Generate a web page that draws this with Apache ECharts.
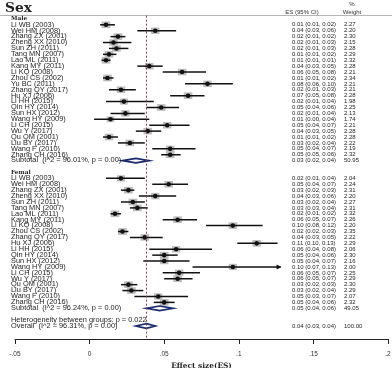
<!DOCTYPE html>
<html>
<head>
<meta charset="utf-8">
<script src="https://cdn.jsdelivr.net/npm/echarts@6/dist/echarts.min.js"></script>
<style>html,body{margin:0;padding:0;background:#fff}#c{width:392px;height:368px}</style>
</head>
<body>
<div id="c"></div>
<script>
// ---- data ----
const maleStudies = ['Li WB (2003)','Wei HM (2008)','Zhang ZX (2001)','Zheng XX (2010)','Sun ZH (2011)','Tang MN (2007)','Lao ML (2011)','Kang MY (2011)','Li KQ (2008)','Zhou CS (2002)','Yu BC (2011)','Zhang QY (2017)','Hu XJ (2006)','Li HH (2015)','Qin HY (2014)','Sun HX (2012)','Wang HY (2009)','Li CH (2015)','Wu Y (2017)','Qu QM (2001)','Liu BY (2017)','Wang F (2010)','Zhang CH (2016)'];
const maleES   = [0.011,0.044,0.019,0.016,0.018,0.013,0.011,0.040,0.062,0.012,0.079,0.021,0.066,0.023,0.048,0.024,0.014,0.052,0.039,0.013,0.027,0.054,0.054];
const maleLow  = [0.007,0.032,0.014,0.009,0.013,0.009,0.008,0.032,0.049,0.009,0.064,0.013,0.054,0.011,0.038,0.014,0.003,0.040,0.031,0.009,0.019,0.042,0.048];
const maleHigh = [0.017,0.058,0.024,0.028,0.026,0.018,0.014,0.049,0.078,0.016,0.096,0.031,0.077,0.043,0.060,0.037,0.040,0.067,0.048,0.019,0.037,0.071,0.061];
const maleWeight = [2.27,2.20,2.30,2.15,2.28,2.29,2.32,2.28,2.21,2.34,2.21,2.21,2.28,1.98,2.25,2.13,1.74,2.21,2.28,2.28,2.22,2.19,2.32];

const femaleStudies = ['Li WB (2003)','Wei HM (2008)','Zhang ZX (2001)','Zheng XX (2010)','Sun ZH (2011)','Tang MN (2007)','Lao ML (2011)','Kang MY (2011)','Li KQ (2008)','Zhou CS (2002)','Zhang QY (2017)','Hu XJ (2006)','Li HH (2015)','Qin HY (2014)','Sun HX (2012)','Wang HY (2009)','Li CH (2015)','Wu Y (2017)','Qu QM (2001)','Liu BY (2017)','Wang F (2010)','Zhang CH (2016)'];
const femaleES   = [0.021,0.053,0.026,0.044,0.029,0.032,0.017,0.059,0.096,0.022,0.037,0.112,0.058,0.050,0.050,0.096,0.060,0.059,0.026,0.028,0.046,0.050];
const femaleLow  = [0.011,0.042,0.021,0.033,0.021,0.027,0.014,0.049,0.078,0.019,0.027,0.099,0.040,0.042,0.036,0.069,0.049,0.050,0.021,0.022,0.030,0.043];
const femaleHigh = [0.037,0.066,0.030,0.058,0.037,0.039,0.021,0.072,0.116,0.026,0.049,0.126,0.082,0.059,0.067,0.134,0.074,0.069,0.032,0.036,0.066,0.057];
const femaleWeight = [2.04,2.24,2.31,2.20,2.27,2.31,2.32,2.26,2.20,2.35,2.22,2.29,2.06,2.30,2.16,2.00,2.25,2.29,2.30,2.29,2.07,2.32];

const groupNames = ['Male','Femal'];
const subtotalES = [0.031, 0.047];
const subtotalLow = [0.022, 0.038];
const subtotalHigh = [0.040, 0.056];
const subtotalWeight = ['50.95','49.05'];
const subtotalI2 = ['96.01%','96.24%'];
const subtotalP = ['0.00','0.00'];

const overallES = 0.038, overallLow = 0.031, overallHigh = 0.044;
const overallI2 = '96.31%', overallP = '0.00', overallWeight = '100.00';
const heterogeneityP = '0.022';

const xTicks = [-0.05, 0, 0.05, 0.1, 0.15, 0.2];
const xTickLabels = ['-.05','0','.05','.1','.15','.2'];

// ---- build rows ----
const rows = [];
let r = 0;
function addGroup(g, studies, es, lo, hi, w) {
  rows.push({type:'header', row:r++, label:groupNames[g]});
  studies.forEach((s,i)=>rows.push({type:'study', row:r++, label:s, es:es[i], lo:lo[i], hi:hi[i], w:w[i]}));
  rows.push({type:'diamond', row:r++, label:'Subtotal  (I^2 = '+subtotalI2[g]+', p = '+subtotalP[g]+')',
    es:subtotalES[g], lo:subtotalLow[g], hi:subtotalHigh[g], wText:subtotalWeight[g]});
  r++;
}
addGroup(0, maleStudies, maleES, maleLow, maleHigh, maleWeight);
addGroup(1, femaleStudies, femaleES, femaleLow, femaleHigh, femaleWeight);
rows.push({type:'text', row:r++, label:'Heterogeneity between groups: p = '+heterogeneityP});
rows.push({type:'diamond', row:r++, label:'Overall  (I^2 = '+overallI2+', p = '+overallP+')',
  es:overallES, lo:overallLow, hi:overallHigh, wText:overallWeight});

const CLIP = 0.128;
const f2 = v => v.toFixed(2);
const SANS = 'Liberation Sans, Arial, sans-serif';
const SERIF = 'DejaVu Serif, serif';

function txt(text, x, y, font, sx, align, fill) {
  return {type:'text', x:x, y:y, scaleX:sx||1, z2:10,
    style:{text:text, x:0, y:0, font:font, fill:fill||'#1e1e1e',
      align:align||'left', textAlign:align||'left', verticalAlign:'middle', textVerticalAlign:'middle'}};
}

function renderItem(params, api) {
  const d = rows[params.dataIndex];
  const y = api.coord([0, d.row])[1];
  const ch = [];
  const labelFont = '6.6px ' + SANS;
  const numFont = '6px ' + SANS;
  if (d.type === 'header') {
    ch.push(txt(d.label, 11, y, 'bold 5.6px ' + SERIF, 1.05));
  } else if (d.type === 'text') {
    ch.push(txt(d.label, 11, y, labelFont, 1.12));
  } else if (d.type === 'study') {
    const xe = api.coord([d.es, d.row])[0];
    const xl = api.coord([d.lo, d.row])[0];
    const hiV = Math.min(d.hi, CLIP);
    const xh = api.coord([hiV, d.row])[0];
    const s = Math.sqrt(d.w / 2.2);
    const bw = 8.5 * s, bh = 6.5 * s;
    ch.push({type:'rect', shape:{x:xe-bw/2, y:y-bh/2, width:bw, height:bh}, style:{fill:'#bdbdbd'}, z2:1});
    ch.push({type:'polyline', shape:{points:[[xl,y],[xh,y]]}, style:{stroke:'#111', lineWidth:1.5, fill:null}, z2:2});
    if (d.hi > CLIP) {
      ch.push({type:'polygon', shape:{points:[[xh+1,y],[xh-4,y-2.5],[xh-4,y+2.5]]}, style:{fill:'#111'}, z2:3});
    }
    ch.push({type:'circle', shape:{cx:xe, cy:y, r:2.3}, style:{fill:'#111'}, z2:3});
    ch.push(txt(d.label, 11, y, labelFont, 1.12));
    ch.push(txt(f2(d.es)+' ('+f2(d.lo)+', '+f2(d.hi)+')', 292, y, numFont, 1));
    ch.push(txt(f2(d.w), 344, y, numFont, 1));
  } else if (d.type === 'diamond') {
    const xe = api.coord([d.es, d.row])[0];
    const xl = api.coord([d.lo, d.row])[0];
    const xh = api.coord([d.hi, d.row])[0];
    ch.push({type:'polygon', shape:{points:[[xl,y],[xe,y-2.3],[xh,y],[xe,y+2.3]]},
      style:{fill:'#fff', stroke:'#1c2a6e', lineWidth:1.7}, z2:4});
    ch.push(txt(d.label, 11, y, labelFont, 1.12));
    ch.push(txt(f2(d.es)+' ('+f2(d.lo)+', '+f2(d.hi)+')', 292, y, numFont, 1));
    ch.push(txt(d.wText, 344, y, numFont, 1));
  }
  return {type:'group', children:ch};
}

const chart = echarts.init(document.getElementById('c'), null, {renderer:'canvas'});
chart.setOption({
  animation:false,
  backgroundColor:'#fff',
  grid:{left:15, right:4, top:13, bottom:29, containLabel:false, outerBoundsMode:'none'},
  xAxis:{type:'value', min:xTicks[0], max:xTicks[xTicks.length-1], interval:0.05,
    axisLine:{show:true, onZero:false, lineStyle:{color:'#222', width:1}},
    axisTick:{show:true, length:5, lineStyle:{color:'#222', width:1}},
    axisLabel:{margin:12, fontSize:6.5, color:'#333', fontFamily:SANS,
      formatter:function(v){ const i = xTicks.findIndex(t=>Math.abs(t-v)<1e-9); return i>=0?xTickLabels[i]:''; }},
    splitLine:{show:false},
    name:'Effect size(ES)', nameLocation:'middle', nameGap:20,
    nameTextStyle:{fontFamily:SERIF, fontWeight:'bold', fontSize:7.4, color:'#222'}},
  yAxis:{type:'value', inverse:true, min:-1, max:54.2, show:false},
  graphic:[
    {type:'line', shape:{x1:0, y1:15.5, x2:392, y2:15.5}, style:{stroke:'#b5b5b5', lineWidth:1}},
    {type:'text', x:5, y:9, scaleX:1.1, style:{text:'Sex', font:'bold 12.5px '+SERIF, fill:'#222', verticalAlign:'middle', textVerticalAlign:'middle'}},
    {type:'text', x:302, y:12, style:{text:'ES (95% CI)', font:'6px '+SANS, fill:'#333', align:'center', textAlign:'center', verticalAlign:'middle', textVerticalAlign:'middle'}},
    {type:'text', x:352, y:4.5, style:{text:'%', font:'6px '+SANS, fill:'#333', align:'center', textAlign:'center', verticalAlign:'middle', textVerticalAlign:'middle'}},
    {type:'text', x:352, y:12, style:{text:'Weight', font:'6px '+SANS, fill:'#333', align:'center', textAlign:'center', verticalAlign:'middle', textVerticalAlign:'middle'}}
  ],
  series:[{
    type:'custom',
    renderItem:renderItem,
    clip:false,
    encode:{x:0, y:1},
    data:rows.map(d=>[d.es!=null?d.es:0, d.row]),
    markLine:{silent:true, symbol:'none', animation:false, label:{show:false},
      lineStyle:{color:'#8a3a4c', type:[2,2], width:1},
      data:[[{coord:[overallES, -0.55]},{coord:[overallES, 54.2]}]]}
  }]
});
</script>
</body>
</html>
